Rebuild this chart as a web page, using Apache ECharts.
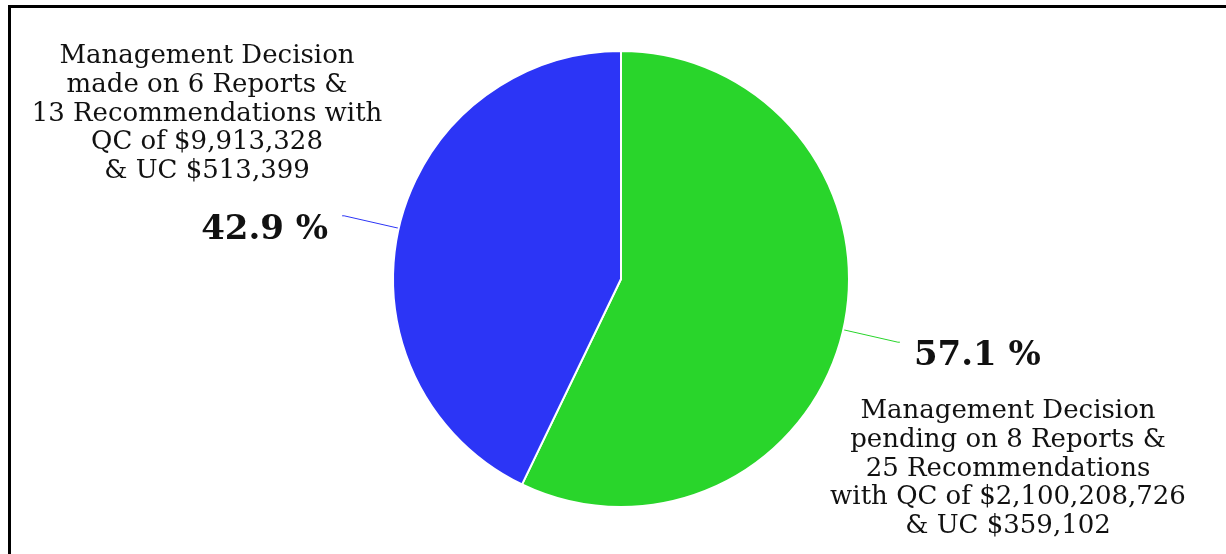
<!DOCTYPE html>
<html>
<head>
<meta charset="utf-8">
<script src="https://cdn.jsdelivr.net/npm/echarts@6/dist/echarts.min.js"></script>
<style>
  html, body { margin: 0; padding: 0; background: #fff; overflow: hidden; }
  #frame { position: absolute; left: 8px; top: 5px; width: 1400px; height: 700px; border: 3px solid #000; box-sizing: border-box; }
  #chart { position: absolute; left: 0; top: 0; width: 1226px; height: 554px; }
</style>
</head>
<body>
<div id="frame"></div>
<div id="chart"></div>
<script>
// Data
const categories = ['Management Decision pending', 'Management Decision made'];
const reportCounts = [8, 6];
const sliceColors = ['#29D52B', '#2C35F6'];
const descriptions = [
  ['Management Decision', 'pending on 8 Reports &', '25 Recommendations', 'with QC of $2,100,208,726', '& UC $359,102'],
  ['Management Decision', 'made on 6 Reports &', '13 Recommendations with', 'QC of $9,913,328', '& UC $513,399']
];

const FONT = '"DejaVu Serif", serif';
const chart = echarts.init(document.getElementById('chart'));

const pieData = categories.map((c, i) => ({
  name: c,
  value: reportCounts[i],
  itemStyle: { color: sliceColors[i] },
  labelLine: { lineStyle: { color: sliceColors[i], width: 1 } }
}));

chart.setOption({
  backgroundColor: 'transparent',
  animation: false,
  series: [{
    type: 'pie',
    center: [621, 279],
    radius: 228,
    startAngle: 90,
    clockwise: true,
    percentPrecision: 1,
    data: pieData,
    itemStyle: { borderColor: '#fff', borderWidth: 2 },
    label: {
      show: true,
      position: 'outside',
      formatter: '{pad|}\n{v|{d} %}',
      distanceToLabelLine: 14,
      rich: {
        pad: { height: 28, fontSize: 10 },
        v: { fontFamily: FONT, fontSize: 34, fontWeight: 'bold', color: '#111', height: 40 }
      }
    },
    labelLine: { show: true, length: 56, length2: 2, smooth: false }
  }],
  graphic: [
    {
      type: 'text', x: 207, y: 42,
      style: {
        text: descriptions[1].join('\n'), align: 'center', verticalAlign: 'top',
        fontFamily: FONT, fontSize: 26, lineHeight: 28.7, fill: '#111'
      }
    },
    {
      type: 'text', x: 1008, y: 397,
      style: {
        text: descriptions[0].join('\n'), align: 'center', verticalAlign: 'top',
        fontFamily: FONT, fontSize: 26, lineHeight: 28.7, fill: '#111'
      }
    }
  ]
});
</script>
</body>
</html>
